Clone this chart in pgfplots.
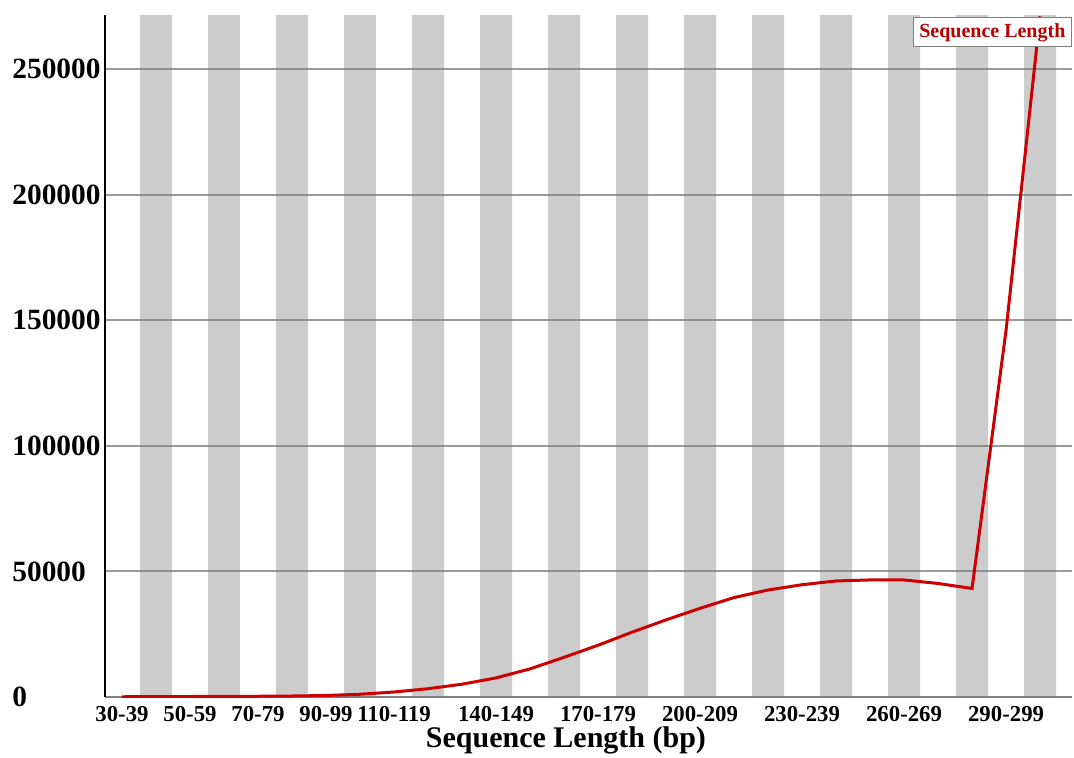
\documentclass[border=0pt]{standalone}
\usepackage{pgfplots}
\pgfplotsset{compat=1.18}
\usepackage{fontspec}
\setmainfont{Liberation Serif}

\definecolor{stripegray}{RGB}{204,204,204}
\definecolor{gridgray}{RGB}{120,120,120}
\definecolor{linered}{RGB}{204,0,0}
\definecolor{legendred}{RGB}{185,0,0}

% read counts per length bin (bin index, count)
\pgfplotstableread{
idx count
0   100
1   150
2   200
3   250
4   300
5   400
6   600
7   1100
8   2000
9   3300
10  5100
11  7600
12  11200
13  15800
14  20600
15  25800
16  30700
17  35300
18  39600
19  42600
20  44700
21  46200
22  46600
23  46600
24  45200
25  43200
26  146000
27  271000
}\lengthdist

\begin{document}
\begin{tikzpicture}
\begin{axis}[
  set layers=standard,
  scale only axis,
  width=483.5pt, height=341pt,
  at={(0,0)}, anchor=south west,
  xmin=-0.5, xmax=27.94,
  ymin=0, ymax=271500,
  axis x line*=bottom,
  axis y line*=left,
  x axis line style={draw=gridgray, draw opacity=0.75, line width=1pt},
  y axis line style={draw=black, line width=1pt},
  major tick length=0pt,
  xtick={0,2,4,6,8,11,14,17,20,23,26},
  xticklabels={30-39,50-59,70-79,90-99,110-119,140-149,170-179,200-209,230-239,260-269,290-299},
  ytick={0,50000,100000,150000,200000,250000},
  scaled y ticks=false,
  /pgf/number format/.cd, fixed, 1000 sep={}, assume math mode=true,
  /pgfplots/.cd,
  ymajorgrids,
  grid style={draw=gridgray, draw opacity=0.75, line width=1pt},
  xticklabel style={font=\fontsize{11.4}{13}\selectfont\bfseries, anchor=north, inner sep=0pt, yshift=-4.5pt},
  yticklabel style={font=\fontsize{14.7}{16}\selectfont\bfseries, anchor=west, inner sep=0pt, xshift=-46.5pt},
  xlabel={Sequence Length (bp)},
  xlabel style={font=\fontsize{15}{17}\selectfont\bfseries, at={(axis description cs:0.4767,0)}, anchor=north, inner sep=0pt, yshift=-14.5pt},
  legend style={at={(axis description cs:1,1)}, anchor=north east, yshift=-1pt,
    draw=gray, fill=white, line width=0.6pt, inner xsep=1pt, inner ysep=1pt,
    font=\fontsize{10}{12}\selectfont\bfseries, text=legendred},
  legend image code/.code={},
]
% alternating grey bands behind odd bins
\addplot[ybar, bar width=0.94, fill=stripegray, draw=none, on layer=axis background, forget plot]
  coordinates {(1,271500) (3,271500) (5,271500) (7,271500) (9,271500) (11,271500) (13,271500)
               (15,271500) (17,271500) (19,271500) (21,271500) (23,271500) (25,271500) (27,271500)};
\addplot[linered, line width=1.5pt, mark=none] table[x=idx, y=count] {\lengthdist};
\addlegendentry{Sequence Length}
\end{axis}
\pgfresetboundingbox
\useasboundingbox (-52.5pt,-30pt) rectangle (484.5pt,348.5pt);
\end{tikzpicture}
\end{document}
